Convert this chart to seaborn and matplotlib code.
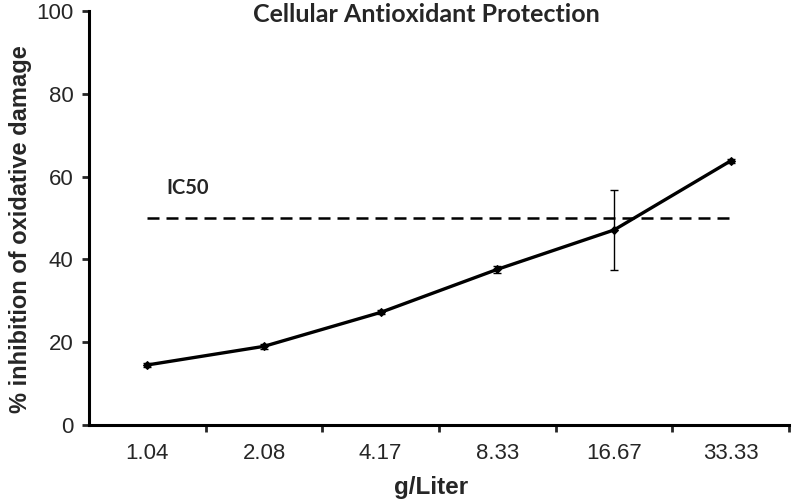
import numpy as np
import pandas as pd
import seaborn as sns
import matplotlib.pyplot as plt

# Dose (g/Liter) and % inhibition of oxidative damage
doses = ["1.04", "2.08", "4.17", "8.33", "16.67", "33.33"]
inhibition = [14.5, 19.0, 27.2, 37.6, 47.1, 63.8]
errors = [0.5, 0.6, 0.5, 0.8, 9.6, 0.4]
ic50 = 50

df = pd.DataFrame({"pos": range(len(doses)), "dose": doses, "inhibition": inhibition})

sns.set_style("white")
plt.rcParams["font.family"] = ["Liberation Sans", "DejaVu Sans"]

fig = plt.figure(figsize=(7.92, 5), dpi=100)
ax = fig.add_axes([0.1124, 0.15, 0.8838, 0.828])

# IC50 reference line
ax.plot([0, len(doses) - 1], [ic50, ic50], color="black", lw=1.8, ls=(0, (4.8, 2.8)))
ax.text(0.16, 55.8, "IC50", family=["Lato", "DejaVu Sans"],
        fontweight="bold", fontsize=14.5, ha="left", va="baseline")

sns.lineplot(data=df, x="pos", y="inhibition", color="black", lw=2.4,
             marker="D", markersize=4, markeredgecolor="black", ax=ax)
ax.errorbar(df["pos"], df["inhibition"], yerr=errors, fmt="none",
            ecolor="black", elinewidth=1, capsize=3, capthick=1)

ax.set_xlim(-0.5, len(doses) - 0.5)
ax.set_ylim(0, 100)
ax.set_xticks(range(len(doses)))
ax.set_xticklabels(doses)
ax.set_xticks(np.arange(0.5, len(doses)), minor=True)
ax.set_yticks(range(0, 101, 20))
ax.tick_params(axis="x", which="major", length=0, labelsize=16, pad=13)
ax.tick_params(axis="x", which="minor", length=5, width=2, direction="out", bottom=True)
ax.tick_params(axis="y", length=5, width=2, direction="out", left=True, labelsize=16, pad=6)

for side in ["top", "right"]:
    ax.spines[side].set_visible(False)
for side in ["left", "bottom"]:
    ax.spines[side].set_linewidth(2.2)
    ax.spines[side].set_color("black")

ax.set_xlabel("g/Liter", fontsize=17.5, fontweight="bold")
ax.set_ylabel("% inhibition of oxidative damage", fontsize=17, fontweight="bold")
ax.xaxis.set_label_coords(0.489, -0.123)
ax.yaxis.set_label_coords(-0.081, 0.473)
ax.text(2.39, 97.4, "Cellular Antioxidant Protection", family=["Lato", "DejaVu Sans"],
        fontweight="bold", fontsize=18, ha="center", va="baseline")

plt.savefig("out.png", dpi=100)
